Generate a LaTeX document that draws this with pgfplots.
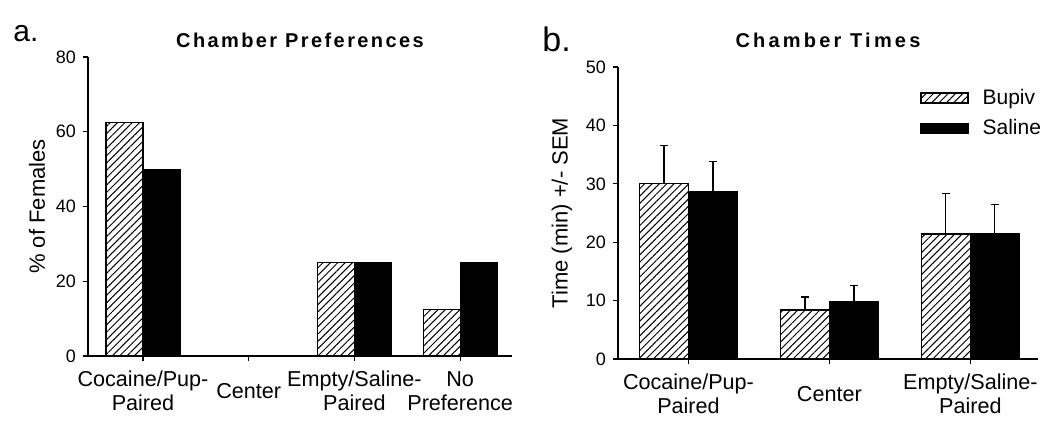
\documentclass[border=0pt]{standalone}
\usepackage{fontspec}
\setmainfont{Liberation Sans}
\newfontfamily\titlefontA[LetterSpace=12]{Liberation Sans}
\newfontfamily\titlefontB[LetterSpace=16]{Liberation Sans}
\usepackage{pgfplots}
\pgfplotsset{compat=1.18}
\usetikzlibrary{patterns.meta}
\pgfplotsset{
  myaxis/.style={
    scale only axis, anchor=south west,
    axis x line*=bottom, axis y line*=left,
    axis line style={-, line width=0.6pt},
    tick align=outside, major tick length=2.5pt,
    tick style={black, line width=0.6pt},
    ymin=0, ybar=0pt,
    /pgf/number format/assume math mode=true,
    y tick label style={font=\fontsize{9}{10}\selectfont},
    x tick label style={font=\fontsize{10.8}{12}\selectfont, align=center, anchor=center, yshift=-15pt},
    ylabel style={font=\fontsize{11}{12}\selectfont, anchor=center},
    title style={at={(axis description cs:0.5,1)}, anchor=center},
  },
  mylegend/.style={legend image code/.code={\draw[##1] (0pt,-2.5pt) rectangle (23.5pt,2.5pt);}},
  bupiv/.style={draw=black, line width=0.6pt, pattern={Lines[angle=45,distance=2.6pt,line width=0.5pt]}, pattern color=black, mylegend},
  saline/.style={draw=black, line width=0.6pt, fill=black, mylegend},
}
\begin{document}
\begin{tikzpicture}
\useasboundingbox (0,0) rectangle (525pt,212pt);
\node[anchor=base west, inner sep=0pt, font=\fontsize{15}{18}\selectfont] at (6.5pt,191pt) {a.};
\node[anchor=base west, inner sep=0pt, font=\fontsize{17}{20}\selectfont] at (271pt,186pt) {b.};
\begin{axis}[myaxis,
  at={(44pt,34pt)}, width=212pt, height=149.5pt,
  xmin=-0.52, xmax=3.49, ymax=80, ytick={0,20,40,60,80},
  bar width=18.5pt,
  xtick={0,1,2,3},
  xticklabels={{Cocaine/Pup-\\Paired},{Center},{Empty/Saline-\\Paired},{No\\Preference}},
  ylabel={\% of Females},
  ylabel style={at={(axis description cs:-0.1203,0.5)}},
  title={Chamber Preferences},
  title style={yshift=2.5pt, font=\titlefontA\bfseries\fontsize{10}{12}\selectfont},
]
\addplot[bupiv] coordinates {(0,62.5) (1,0) (2,25) (3,12.5)};
\addplot[saline] coordinates {(0,50) (1,0) (2,25) (3,25)};
\end{axis}
\begin{axis}[myaxis,
  at={(309pt,32.5pt)}, width=210pt, height=146pt,
  xmin=-0.5, xmax=2.48, ymax=50, ytick={0,10,20,30,40,50},
  bar width=24.5pt,
  xtick={0,1,2},
  xticklabels={{Cocaine/Pup-\\Paired},{Center},{Empty/Saline-\\Paired}},
  ylabel={Time (min) +/- SEM},
  ylabel style={at={(axis description cs:-0.1333,0.5)}},
  title={Chamber Times},
  title style={yshift=7.5pt, font=\titlefontB\bfseries\fontsize{10}{12}\selectfont},
  legend style={at={(axis description cs:0.719,0.94)}, anchor=north west, draw=none, fill=none,
    inner sep=0pt, row sep=2pt, font=\fontsize{10.5}{12}\selectfont, cells={anchor=west},
    /tikz/every odd column/.append style={column sep=5pt}},
  error bars/error bar style={line width=0.6pt, black},
  error bars/error mark options={rotate=90, mark size=2pt, line width=0.6pt, black},
]
\addplot[bupiv, error bars/.cd, y dir=plus, y explicit] coordinates {(0,30.1) +- (0,6.4) (1,8.4) +- (0,2.2) (2,21.4) +- (0,7.0)};
\addplot[saline, error bars/.cd, y dir=plus, y explicit] coordinates {(0,28.6) +- (0,5.2) (1,9.9) +- (0,2.7) (2,21.5) +- (0,5.0)};
\legend{Bupiv, Saline}
\end{axis}
\end{tikzpicture}
\end{document}
